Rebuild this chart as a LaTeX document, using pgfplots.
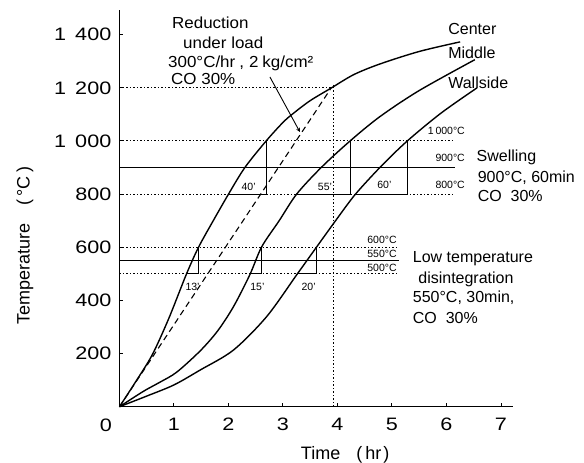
\documentclass[border=0pt]{standalone}
\usepackage{pgfplots}
\pgfplotsset{compat=1.18}
\usepackage{fontspec}
\setmainfont{Liberation Sans}
\newfontfamily\tickfont[FakeStretch=1.2]{Liberation Sans}
\newfontfamily\widefont[FakeStretch=1.06]{Liberation Sans}
\usetikzlibrary{arrows.meta}
\begin{document}
\begin{tikzpicture}
\begin{axis}[
  x=54.5pt, y=0.2657pt,
  xmin=0, xmax=7.22, ymin=0, ymax=1493,
  axis x line=bottom, axis y line=left,
  axis line style={-, line width=1.2pt},
  tick align=inside, major tick length=4pt,
  tick style={line width=1pt, black},
  xtick={1,2,3,4,5,6,7}, xticklabels={1,2,3,4,5,6,7},
  ytick={200,400,600,800,1000,1200,1400},
  yticklabels={200,400,600,800,{1\hspace{0.5em}000},{1\hspace{0.5em}200},{1\hspace{0.5em}400}},
  /pgf/number format/assume math mode=true,
  tick label style={font=\tickfont\fontsize{18}{18}\selectfont, inner sep=0pt},
  yticklabel style={anchor=east, xshift=-8pt},
  xticklabel style={anchor=north, yshift=-11pt},
  clip=false,
]
% reference lines (dotted)
\addplot[black, line width=1.0pt, dash pattern=on 1.3pt off 2.2pt] coordinates {(0,1200)(3.93,1200)};
\addplot[black, line width=1.0pt, dash pattern=on 1.3pt off 2.2pt] coordinates {(3.93,0)(3.93,1212)};
\addplot[black, line width=1.0pt, dash pattern=on 1.3pt off 2.2pt] coordinates {(0,1000)(6.16,1000)};
\addplot[black, line width=1.0pt, dash pattern=on 1.3pt off 2.2pt] coordinates {(0,800)(6.16,800)};
\addplot[black, line width=1.0pt, dash pattern=on 1.3pt off 2.2pt] coordinates {(0,600)(5.11,600)};
\addplot[black, line width=1.0pt, dash pattern=on 1.3pt off 2.2pt] coordinates {(0,500)(5.13,500)};
% solid reference lines
\addplot[black, line width=0.9pt] coordinates {(0,900)(6.16,900)};
\addplot[black, line width=0.9pt] coordinates {(0,550)(5.13,550)};
% holding-time boxes
\addplot[black, line width=1.0pt] coordinates {(2.0,800)(2.69,800)(2.69,1000)};
\addplot[black, line width=1.0pt] coordinates {(3.25,800)(4.23,800)(4.23,1000)};
\addplot[black, line width=1.0pt] coordinates {(4.33,800)(5.28,800)(5.28,1000)};
\addplot[black, line width=1.0pt] coordinates {(1.23,500)(1.45,500)(1.45,600)};
\addplot[black, line width=1.0pt] coordinates {(2.39,500)(2.61,500)(2.61,600)};
\addplot[black, line width=1.0pt] coordinates {(3.25,500)(3.62,500)(3.62,600)};
% dashed reduction line
\addplot[black, line width=1.1pt, dash pattern=on 6pt off 4pt] coordinates {(0,0)(3.87,1195)};
% pointer
\addplot[black, line width=0.9pt, -{Stealth[length=4pt,width=4pt]}] coordinates {(2.76,1241)(3.31,1034)};
% Center
\addplot[black, line width=1.4pt, smooth, tension=0.5] coordinates {(0,0)(0.3,95)(0.6,195)(0.9,330)(1.23,500)(1.45,600)(1.72,700)(2.0,800)(2.3,900)(2.69,1000)(3.0,1070)(3.19,1104)(3.5,1152)(3.89,1200)(4.3,1250)(4.78,1290)(5.5,1337)(6.25,1373)};
% Middle
\addplot[black, line width=1.4pt, smooth, tension=0.5] coordinates {(0,0)(0.44,58)(0.74,92)(1.05,130)(1.48,210)(1.8,285)(2.09,376)(2.39,496)(2.61,602)(2.93,700)(3.25,800)(3.7,900)(4.23,1000)(4.78,1092)(5.5,1190)(6.52,1306)};
% Wallside
\addplot[black, line width=1.4pt, smooth, tension=0.5] coordinates {(0,0)(0.5,40)(1.0,82)(1.48,138)(2.09,213)(2.7,339)(3.25,496)(3.62,602)(4.0,710)(4.33,800)(4.8,905)(5.28,1000)(5.9,1105)(6.56,1200)};

% texts
\tikzset{big/.style={font=\fontsize{16}{19}\selectfont, inner sep=0pt},
         wbig/.style={font=\widefont\fontsize{16}{19}\selectfont, inner sep=0pt},
         lab/.style={font=\fontsize{18}{20}\selectfont, inner sep=0pt},
         sm/.style={font=\fontsize{10.5}{12}\selectfont, inner sep=0pt}}
\node[wbig, anchor=base west] at (axis cs:0.963,1425) {Reduction};
\node[wbig, anchor=base west] at (axis cs:1.165,1350) {under load};
\node[wbig, anchor=base west] at (axis cs:0.89,1278) {300°C/hr\hspace{4pt},\hspace{5pt}2\hspace{4pt}kg/cm²};
\node[wbig, anchor=base west] at (axis cs:0.945,1214) {CO 30\%};
\node[big, anchor=base west] at (axis cs:6.03,1399) {Center};
\node[big, anchor=base west] at (axis cs:6.03,1311) {Middle};
\node[big, anchor=base west] at (axis cs:6.03,1196) {Wallside};
\node[big, anchor=base west] at (axis cs:6.55,921) {Swelling};
\node[big, anchor=base west] at (axis cs:6.57,843) {900°C, 60min};
\node[big, anchor=base west] at (axis cs:6.57,771) {CO\ \ 30\%};
\node[big, anchor=base west] at (axis cs:5.38,541) {Low temperature};
\node[big, anchor=base west] at (axis cs:5.48,465) {disintegration};
\node[big, anchor=base west] at (axis cs:5.38,394) {550°C, 30min,};
\node[big, anchor=base west] at (axis cs:5.38,314) {CO\ \ 30\%};
\node[sm, anchor=base east] at (axis cs:6.34,1026) {1\,000°C};
\node[sm, anchor=base east] at (axis cs:6.34,921) {900°C};
\node[sm, anchor=base east] at (axis cs:6.34,823) {800°C};
\node[sm, anchor=base east] at (axis cs:5.09,615) {600°C};
\node[sm, anchor=base east] at (axis cs:5.09,560) {550°C};
\node[sm, anchor=base east] at (axis cs:5.09,507) {500°C};
\node[sm, anchor=base] at (axis cs:2.37,814) {40'};
\node[sm, anchor=base] at (axis cs:3.77,814) {55'};
\node[sm, anchor=base] at (axis cs:4.86,823) {60'};
\node[sm, anchor=base] at (axis cs:1.34,439) {13'};
\node[sm, anchor=base] at (axis cs:2.53,439) {15'};
\node[sm, anchor=base] at (axis cs:3.47,439) {20'};
\node[font=\tickfont\fontsize{18}{18}\selectfont, inner sep=0pt] at ([shift={(-13.5pt,-18.3pt)}]axis cs:0,0) {0};
\node[lab, rotate=90] at ([xshift=-94.5pt]axis cs:0,608) {Temperature\hspace{18pt}(\hspace{3pt}°C\hspace{4pt})};
\node[lab] at ([yshift=-48pt]axis cs:4.14,0) {Time\hspace{16pt}(\hspace{3pt}hr\hspace{2pt})};
\coordinate (O) at (axis cs:0,0);
\end{axis}
\pgfresetboundingbox
\useasboundingbox ([shift={(-119.5pt,-56.3pt)}]O) rectangle ([shift={(464.5pt,406.7pt)}]O);
\end{tikzpicture}
\end{document}
